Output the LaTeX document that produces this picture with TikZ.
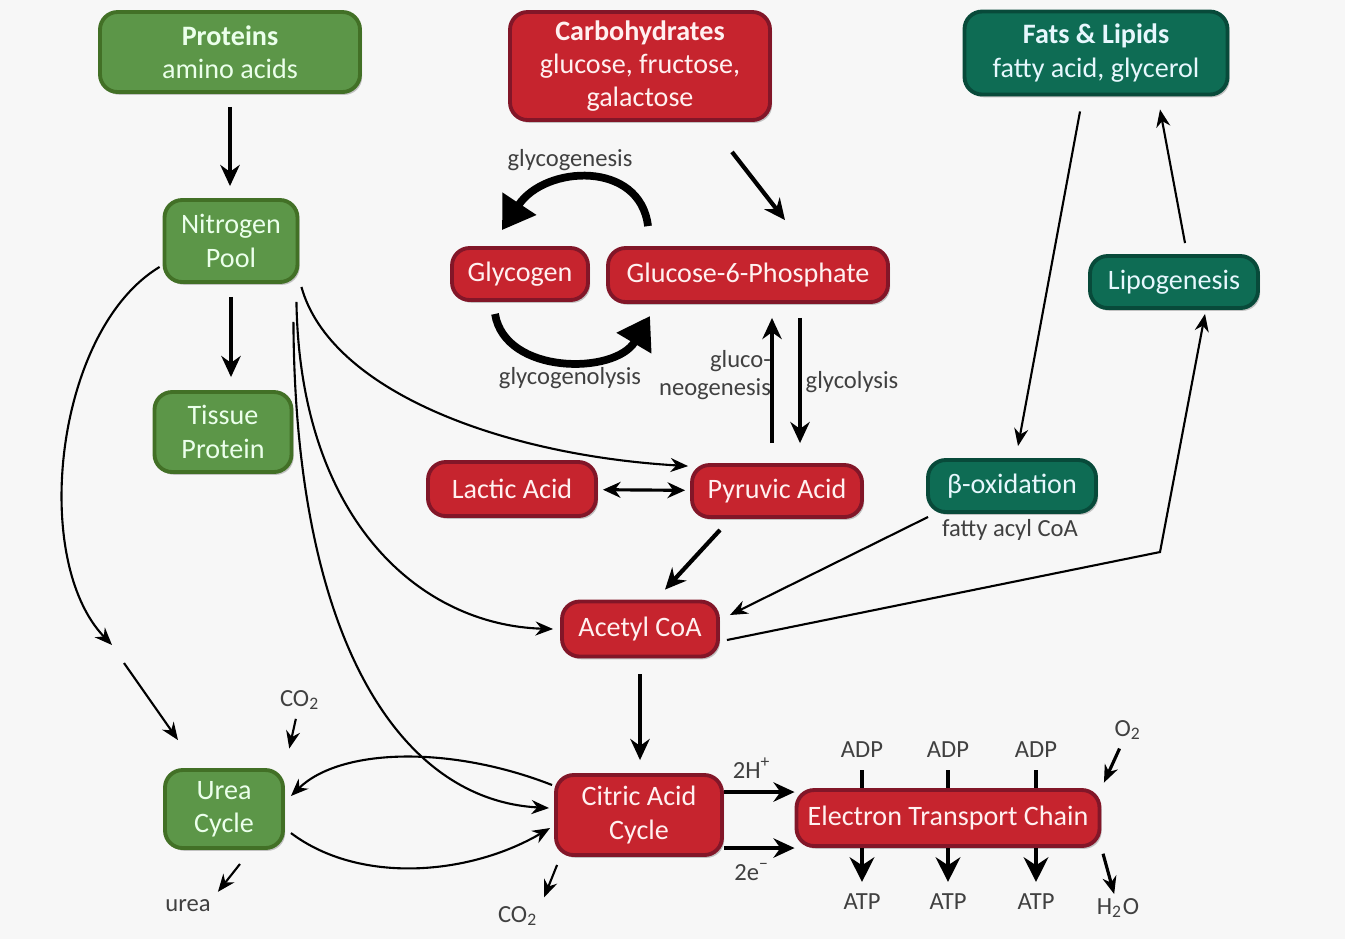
\documentclass[tikz,border=0pt]{standalone}
\usepackage{fontspec}
\setmainfont{Carlito}
\usetikzlibrary{arrows.meta,shadows}

\definecolor{protgreen}{RGB}{92,150,72}
\definecolor{protline}{RGB}{66,112,38}
\definecolor{carbred}{RGB}{198,36,46}
\definecolor{carbline}{RGB}{130,22,40}
\definecolor{fatteal}{RGB}{14,108,84}
\definecolor{fatline}{RGB}{8,74,58}

\begin{document}
\begin{tikzpicture}[x=0.1mm,y=-0.1mm,
    box/.style={rounded corners=5pt, line width=1.1pt, align=center, inner sep=2pt,
        font=\footnotesize, drop shadow={opacity=0.45,shadow xshift=0.6pt,shadow yshift=-0.8pt}},
    greenbox/.style={box, fill=protgreen, draw=protline, text=green!8},
    redbox/.style={box, fill=carbred, draw=carbline, text=red!6},
    tealbox/.style={box, fill=fatteal, draw=fatline, text=cyan!10},
    lbl/.style={font=\scriptsize, text=black!75, inner sep=1pt, align=center},
    flow/.style={-{Stealth[length=6pt,width=5.5pt]}, line width=1.2pt},
    thinflow/.style={-{Stealth[length=5pt,width=4pt]}, line width=0.6pt},
    bigflow/.style={-{Triangle[length=9pt,width=11pt]}, line width=2.2pt}]
    \fill[black!3] (0,0) rectangle (1345,939);
    \useasboundingbox (0,0) rectangle (1345,939);

    % sources
    \node[greenbox, minimum width=26mm, minimum height=8mm] (prot) at (230,52) {\textbf{Proteins}\\amino acids};
    \node[redbox, minimum width=26mm, minimum height=10.8mm] (carb) at (640,66) {\textbf{Carbohydrates}\\glucose, fructose,\\galactose};
    \node[tealbox, minimum width=26.3mm, minimum height=8.3mm] (fat) at (1096,53) {\textbf{Fats \& Lipids}\\fatty acid, glycerol};

    % intermediates
    \node[greenbox, minimum width=13.3mm, minimum height=8.2mm] (npool) at (231,241) {Nitrogen\\Pool};
    \node[greenbox, minimum width=13.7mm, minimum height=8mm] (tprot) at (223,432) {Tissue\\Protein};
    \node[redbox, minimum width=13.6mm, minimum height=5.2mm] (glyc) at (520,274) {Glycogen};
    \node[redbox, minimum width=28mm, minimum height=5.4mm] (g6p) at (748,275) {Glucose-6-Phosphate};
    \node[tealbox, minimum width=16.8mm, minimum height=5.2mm] (lipo) at (1174,282) {Lipogenesis};
    \node[redbox, minimum width=16.8mm, minimum height=5.4mm] (lact) at (512,489) {Lactic Acid};
    \node[redbox, minimum width=17mm, minimum height=5.2mm] (pyr) at (777,491) {Pyruvic Acid};
    \node[tealbox, minimum width=16.8mm, minimum height=5.2mm] (boxi) at (1012,486) {β-oxidation};
    \node[redbox, minimum width=15.6mm, minimum height=5.5mm] (acoa) at (640,629) {Acetyl CoA};
    \node[redbox, minimum width=16.6mm, minimum height=8mm] (tca) at (639,815) {Citric Acid\\Cycle};
    \node[redbox, minimum width=30.3mm, minimum height=5.6mm] (etc) at (948,818) {Electron Transport Chain};
    \node[greenbox, minimum width=11.8mm, minimum height=7.8mm] (urea) at (224,809) {Urea\\Cycle};

    % small labels
    \node[lbl] (lgenesis) at (570,160) {glycogenesis};
    \node[lbl] (llysis) at (570,378) {glycogenolysis};
    \node[lbl, align=right] (lneo) at (715,375) {gluco-\\neogenesis};
    \node[lbl] (lglyco) at (852,382) {glycolysis};
    \node[lbl] (lfacoa) at (1010,530) {fatty acyl CoA};
    \node[lbl] (co2u) at (300,700) {CO\textsubscript{2}};
    \node[lbl] (lurea) at (188,906) {urea};
    \node[lbl] (co2t) at (518,916) {CO\textsubscript{2}};
    \node[lbl] (h2) at (752,768) {2H\textsuperscript{+}};
    \node[lbl] (e2) at (752,872) {2e\textsuperscript{−}};
    \node[lbl] (adp1) at (862,750) {ADP};
    \node[lbl] (adp2) at (948,750) {ADP};
    \node[lbl] (adp3) at (1036,750) {ADP};
    \node[lbl] (atp1) at (862,902) {ATP};
    \node[lbl] (atp2) at (948,902) {ATP};
    \node[lbl] (atp3) at (1036,902) {ATP};
    \node[lbl] (o2) at (1128,730) {O\textsubscript{2}};
    \node[lbl] (h2o) at (1118,908) {H\textsubscript{2}O};
    \coordinate (nhin) at (112,645);
    \coordinate (nhout) at (124,663);
    \coordinate (kink) at (1160,552);

    % main flow
    \draw[flow, shorten <=1.3mm, shorten >=1.2mm] (prot) -- (prot |- npool.north);
    \draw[flow, shorten <=1.3mm, shorten >=1.3mm] (npool) -- (npool |- tprot.north);
    \draw[flow] ([shift={(92,30)}]carb.south) -- ([shift={(37,-26)}]g6p.north);
    \draw[bigflow] ([shift={(-100,-20)}]g6p.north) .. controls (640,160) and (545,165) .. ([shift={(-18,-16)}]glyc.north);
    \draw[bigflow] ([shift={(-25,12)}]glyc.south) .. controls (505,375) and (615,375) .. ([shift={(-98,12)}]g6p.south);
    \draw[flow] ([shift={(-5,-20)}]pyr.north) -- ([shift={(24,14)}]g6p.south);
    \draw[flow] ([shift={(52,14)}]g6p.south) -- ([shift={(23,-20)}]pyr.north);
    \draw[{Stealth[length=5pt,width=4.5pt]}-{Stealth[length=5pt,width=4.5pt]}, line width=0.9pt,
        shorten <=0.5mm, shorten >=0.5mm] (lact) -- (pyr);
    \draw[flow] ([shift={(-57,11)}]pyr.south) -- ([shift={(25,-10)}]acoa.north);
    \draw[flow, shorten <=1.6mm, shorten >=1.3mm] (acoa) -- (acoa |- tca.north);
    \draw[flow] ([yshift=2.3mm]tca.east) -- ([yshift=2.3mm]tca.east -| etc.west);
    \draw[flow] ([yshift=-3.3mm]tca.east) -- ([yshift=-3.3mm]tca.east -| etc.west);

    % ETC in and out
    \foreach \n in {1,2,3}{
        \draw[line width=1.2pt, shorten <=0.8mm] (adp\n) -- (adp\n |- etc.north);
        \draw[-{Stealth[length=7pt,width=7pt]}, line width=1.4pt, shorten >=0.8mm] (atp\n |- etc.south) -- (atp\n);
    }
    \draw[thinflow, line width=0.9pt, shorten <=0.5mm, shorten >=0.6mm] (o2) -- (etc.north east);
    \draw[thinflow, line width=0.9pt, shorten <=0.6mm] (etc.south east) -- (h2o);

    % fats
    \draw[thinflow] ([shift={(-16,15)}]fat.south) -- ([shift={(6,-12)}]boxi.north);
    \draw[thinflow] ([shift={(11,-11)}]lipo.north) -- ([shift={(64,13)}]fat.south);
    \draw[thinflow] ([shift={(2,3)}]boxi.south west) -- ([shift={(10,-14)}]acoa.east);
    \draw[thinflow] ([shift={(7,11)}]acoa.east) -- (kink) -- ([shift={(31,4)}]lipo.south);

    % nitrogen pool
    \draw[thinflow] ([shift={(2,3)}]npool.south east) .. controls (330,390) and (500,455) .. ([shift={(-2,3)}]pyr.north west);
    \draw[thinflow] ([shift={(-3,18)}]npool.south east) .. controls (300,520) and (420,625) .. ([shift={(-7,0)}]acoa.west);
    \draw[thinflow] ([shift={(-6,38)}]npool.south east) .. controls (295,640) and (400,800) .. ([shift={(-5,-7)}]tca.west);
    \draw[thinflow] ([shift={(-3,-17)}]npool.south west) .. controls (55,330) and (30,560) .. (nhin);
    \draw[thinflow] (nhout) -- ([shift={(-46,-28)}]urea.north);

    % urea cycle
    \draw[thinflow] ([shift={(-2,-30)}]tca.west) .. controls (450,745) and (340,748) .. ([shift={(6,-13)}]urea.east);
    \draw[thinflow] ([shift={(6,24)}]urea.east) .. controls (360,885) and (470,875) .. ([shift={(-4,13)}]tca.west);
    \draw[thinflow, shorten <=0.5mm, shorten >=2mm] (co2u) -- (urea.north east);
    \draw[thinflow, shorten >=0.5mm] ([shift={(16,14)}]urea.south) -- (lurea.north east);
    \draw[thinflow, shorten >=0.5mm] ([shift={(3,8)}]tca.south west) -- (co2t.north east);
\end{tikzpicture}
\end{document}
